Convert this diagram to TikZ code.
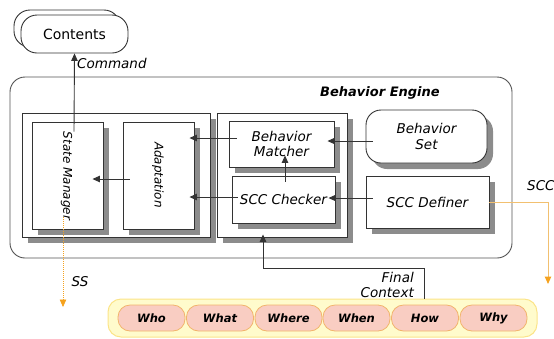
\documentclass[tikz,border=0pt]{standalone}
\usepackage{fontspec}
\setmainfont{DejaVu Sans}
\usetikzlibrary{arrows.meta,shadows,calc}
\definecolor{linec}{HTML}{333333}
\definecolor{shadc}{HTML}{8C8C8C}
\definecolor{barfill}{HTML}{FFFBCC}
\definecolor{barline}{HTML}{FBE489}
\definecolor{pillfill}{HTML}{F9CDC2}
\definecolor{pillline}{HTML}{F2B46C}
\definecolor{orangeline}{HTML}{F2C070}
\definecolor{orangetip}{HTML}{F5A21E}
\tikzset{
  box/.style={draw=linec, fill=white, line width=0.9pt, inner sep=0pt,
    drop shadow={shadow xshift=6pt, shadow yshift=-6pt, fill=shadc, opacity=1}},
  plainbox/.style={draw=linec, fill=white, line width=0.9pt, inner sep=0pt},
  lbl/.style={font=\fontsize{13.5}{15.5}\selectfont\itshape, inner sep=0pt, align=center},
  vlbl/.style={font=\fontsize{12}{13}\selectfont\itshape, inner sep=0pt, rotate=-90},
  pill/.style={draw=pillline, fill=pillfill, line width=0.8pt, rounded corners=12pt,
    minimum width=67pt, minimum height=26pt, inner sep=0pt,
    font=\fontsize{11.5}{13}\selectfont\bfseries\itshape},
  arr/.style={draw=linec, line width=0.9pt, -{Triangle[length=7.5pt,width=6.5pt]}},
  oarr/.style={draw=orangeline, line width=1pt, -{Triangle[length=7.5pt,width=6.5pt,fill=orangetip,color=orangetip]}},
  ssarr/.style={draw=orangetip, line width=0.7pt, dash pattern=on 1pt off 1pt, -{Triangle[length=7.5pt,width=6.5pt,fill=orangetip,color=orangetip]}}
}
\begin{document}
\begin{tikzpicture}[x=1pt,y=-1pt]
\useasboundingbox (0,0) rectangle (554,338);
% Contents (double shape)
\node[plainbox, rounded corners=16pt, minimum width=106pt, minimum height=37pt] (contback) at (67,28.5) {};
\node[plainbox, rounded corners=16pt, minimum width=107pt, minimum height=38pt,
  font=\fontsize{14}{15}\selectfont] (cont) at (74.5,34) {Contents};
% Outer engine
\node[draw=linec!85, line width=0.9pt, rounded corners=15pt, minimum width=502pt, minimum height=181pt, inner sep=0pt] (engine) at (261,167.5) {};
\node[font=\fontsize{13}{15}\selectfont\bfseries\itshape, inner sep=0pt] (title) at (380,93) {Behavior Engine};
% Groups
\node[box, minimum width=188pt, minimum height=124pt] (g1) at (116,175) {};
\node[box, minimum width=130pt, minimum height=124pt] (g2) at (282,175) {};
% Left boxes
\node[box, minimum width=71pt, minimum height=107pt] (sm) at (67.5,175.5) {};
\node[vlbl] (smtext) at (66.5,176) {State Manager};
\node[box, minimum width=71pt, minimum height=107pt] (ad) at (158.5,175.5) {};
\node[vlbl] (adtext) at (158,175) {Adaptation};
% Right group boxes
\node[box, lbl, minimum width=105pt, minimum height=46pt] (bmatch) at (281.5,144) {Behavior\\Matcher};
\node[box, lbl, minimum width=103pt, minimum height=47pt] (sccc) at (283.5,199.5) {SCC Checker};
% Behavior Set and SCC Definer
\node[box, lbl, rounded corners=15pt, minimum width=121pt, minimum height=53pt] (bset) at (426.5,136.5) {Behavior\\Set};
\node[box, lbl, minimum width=123pt, minimum height=52pt] (sccd) at (427.5,202) {SCC Definer};
% Context bar
\node[draw=barline, fill=barfill, line width=1pt, rounded corners=13pt, minimum width=429pt, minimum height=38pt, inner sep=0pt] (bar) at (322.5,318) {};
\node[pill] (who) at (151.5,318) {Who};
\node[pill] (what) at (220,318) {What};
\node[pill] (where) at (288.5,318) {Where};
\node[pill] (when) at (356.5,318) {When};
\node[pill] (how) at (425,318) {How};
\node[pill] (why) at (493.5,318) {Why};
% Connectors
\draw[arr] ($(sm.north)+(6.5,10)$) -- (cont.south);
\node[lbl, anchor=west] (cmdlbl) at (77,63) {Command};
\draw[arr] ($(ad.west)+(7,3.5)$) -- ($(sm.east)+(-11,3.5)$);
\draw[arr] ($(bmatch.west)+(8,-6)$) -- ($(ad.east)+(-5,-37.5)$);
\draw[arr] ($(sccc.west)+(6,-2.5)$) -- ($(ad.east)+(-5,21.5)$);
\draw[arr] ($(bset.west)+(7,4.5)$) -- ($(bmatch.east)+(-7,-3)$);
\draw[arr] ($(sccd.west)+(7,-4)$) -- ($(sccc.east)+(-7,-1.5)$);
\draw[arr] ($(sccc.north)+(1.5,6)$) -- ($(bmatch.south)+(3.5,-12)$);
\draw[arr] ($(bar.north)+(101.5,0)$) |- ($(g2.south)+(-19,31)$) -- ($(g2.south)+(-19,-3)$);
\node[lbl, align=right, anchor=east] (fclbl) at (414,285) {Final\\Context};
\coordinate (sccend) at (548,284);
\draw[oarr] (sccd.east) -| (sccend);
\node[lbl, anchor=west] (scclbl) at (527,186) {SCC};
\coordinate (ssend) at (63,307);
\draw[ssarr] ($(sm.south)+(-4.5,-12)$) -- (ssend);
\node[lbl] (sslbl) at (80,282) {SS};
\end{tikzpicture}
\end{document}
